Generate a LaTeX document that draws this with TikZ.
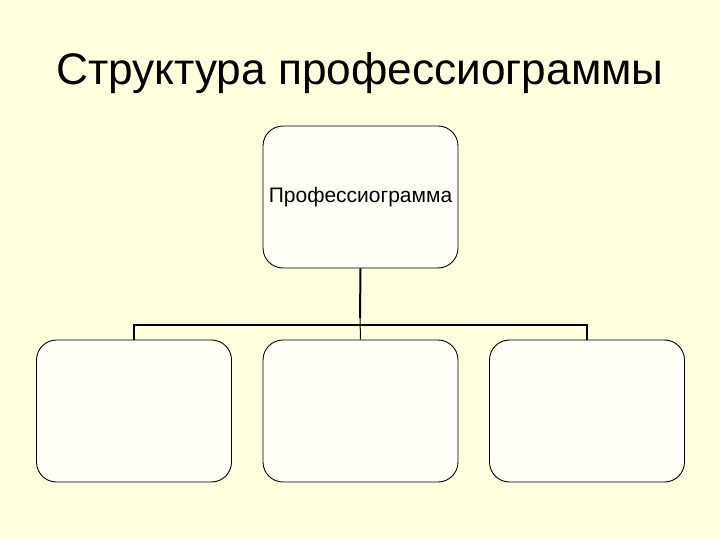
\documentclass[tikz,border=0pt]{standalone}
\usepackage{fontspec}
\setmainfont{Liberation Sans}
\definecolor{slidebg}{RGB}{255,255,221}
\definecolor{cardfill}{RGB}{255,255,247}
\tikzset{card/.style={draw,rounded corners=20pt,fill=cardfill,inner sep=0pt,
    minimum width=195pt,minimum height=142pt,line width=0.9pt}}

\begin{document}
\begin{tikzpicture}[x=1pt,y=-1pt]

\fill[slidebg] (0,0) rectangle (720,540) ;
\useasboundingbox (0,0) rectangle (720,540) ;

\node[anchor=base] (title) at (360,85) {\fontsize{44.2}{50}\selectfont Структура профессиограммы} ;

\node[card] (top) at (360.5,197) {\fontsize{21}{24}\selectfont Профессиограмма} ;

\node[card] (left) at (134,411) {} ;
\node[card] (mid) at (360.5,411) {} ;
\node[card] (right) at (587,411) {} ;

\coordinate (stem) at (360,318) ;
\coordinate (bus) at (360,325) ;

\draw[line width=2pt] (top.south) -- (stem) ;
\draw[line width=1pt] (stem) -- (mid.north) ;
\draw[line width=1.6pt] (left.north) -- (left.north |- bus) -- (right.north |- bus) -- (right.north) ;

\end{tikzpicture}
\end{document}
